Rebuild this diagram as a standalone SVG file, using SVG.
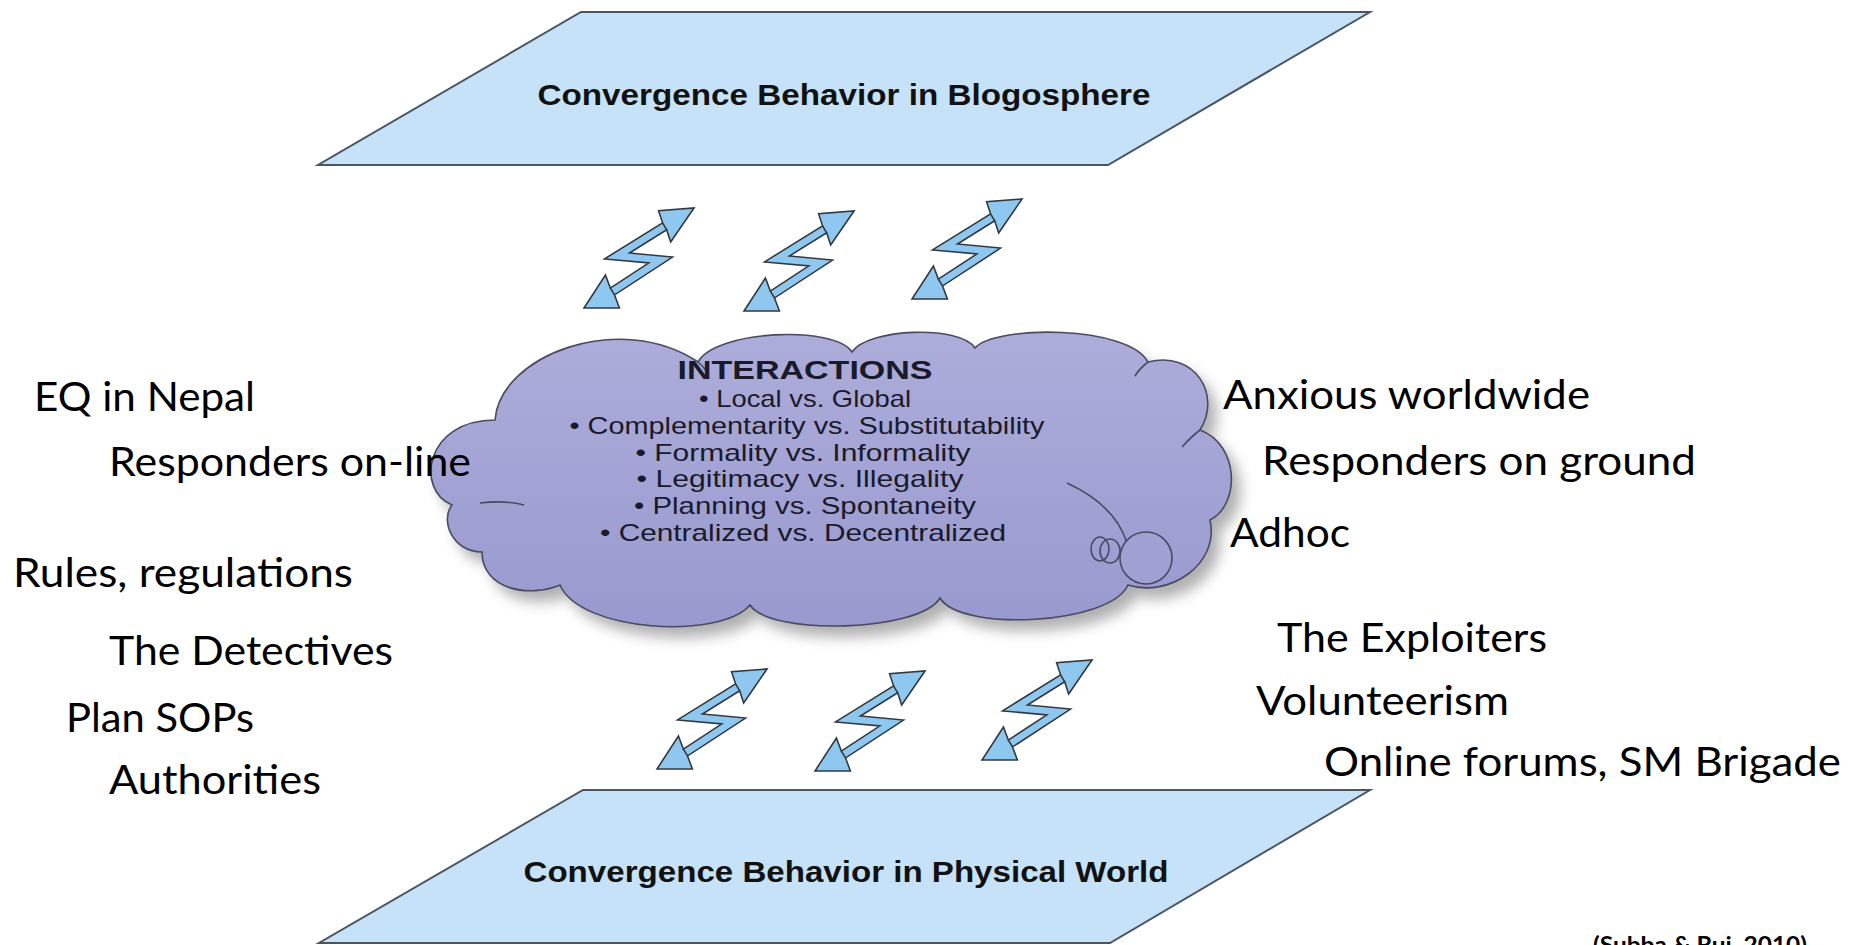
<svg xmlns="http://www.w3.org/2000/svg" xmlns:xlink="http://www.w3.org/1999/xlink" width="1852" height="945" viewBox="0 0 1852 945">
<style>
.plane{fill:#c6e2f8;stroke:#4a5560;stroke-width:2}
.ptitle{font-family:"Liberation Sans",Arial,sans-serif;font-weight:bold;font-size:30px;fill:#111;text-anchor:middle}
.ctitle{font-family:"Liberation Sans",Arial,sans-serif;font-weight:bold;font-size:25px;fill:#1a1a2a;text-anchor:middle}
.citem{font-family:"Liberation Sans",Arial,sans-serif;font-size:24px;fill:#1a1a2a;text-anchor:middle}
.side{font-family:Lato,"Open Sans",sans-serif;font-size:41px;fill:#000}
.cite{font-family:Lato,"Open Sans",sans-serif;font-weight:bold;font-size:22px;fill:#000}
.bolt{fill:#8ec8f0;stroke:#33383d;stroke-width:1.7;stroke-linejoin:miter}
.boltline{fill:none;stroke:#33383d;stroke-width:1.7}
.cloud{stroke:#4a4a60;stroke-width:1.6}
.crease{fill:none;stroke:#4a4a60;stroke-width:1.6}
</style>
<defs>
<linearGradient id="cg" x1="0" y1="0" x2="0" y2="1">
<stop offset="0" stop-color="#adaddb"/>
<stop offset="1" stop-color="#9899ce"/>
</linearGradient>
<filter id="blur" x="-10%" y="-10%" width="130%" height="130%">
<feGaussianBlur stdDeviation="7"/>
</filter>
<g id="bolt">
<polygon class="bolt" points="118,0 93,38 88.7,24.4 48.7,50.4 95,55 32.75,97.4 38,112 0,112 23,75 28.25,89.6 69.6,61.5 22,57 84.3,16.6 80,3"/>
<path class="boltline" d="M84.3,16.6 L88.7,24.4 M28.25,89.6 L32.75,97.4"/>
</g>
<path id="cloudshape" d="M452,505 C415,490 425,420 495,420 C500,355 620,310 698,362 C715,330 835,325 852,352 C868,328 960,325 975,348 C995,325 1128,325 1148,362 C1195,350 1222,395 1200,430 C1240,445 1240,505 1210,520 C1220,565 1168,598 1128,585 C1110,625 960,632 940,598 C920,632 770,636 750,605 C720,640 580,632 560,585 C530,598 482,590 482,552 C452,552 440,520 452,505 Z"/>
</defs>

<g id="node-blogosphere">
<polygon class="plane" points="581,12 1370,12 1108,165 318,165"/>
<text class="ptitle" x="844" y="105" textLength="613" lengthAdjust="spacingAndGlyphs">Convergence Behavior in Blogosphere</text>
</g>

<g id="node-physical">
<polygon class="plane" points="583,790 1370,790 1110,943 319,943"/>
<text class="ptitle" x="846" y="882" textLength="645" lengthAdjust="spacingAndGlyphs">Convergence Behavior in Physical World</text>
</g>

<g id="node-interactions">
<use xlink:href="#cloudshape" transform="translate(9,11)" fill="#7a7a7a" opacity="0.6" filter="url(#blur)"/>
<use xlink:href="#cloudshape" class="cloud" fill="url(#cg)"/>
<path class="crease" d="M480,503 Q505,500 524,505"/>
<path class="crease" d="M1067,483 Q1115,505 1127,543"/>
<path class="crease" d="M1182,447 Q1192,436 1200,430"/>
<path class="crease" d="M1148,362 Q1140,368 1135,376"/>
<path class="crease" d="M698,362 Q704,367 707,372"/>
<ellipse class="cloud" cx="1100" cy="549" rx="9" ry="12" fill="none"/>
<ellipse class="cloud" cx="1110" cy="551" rx="10" ry="12" fill="none"/>
<circle class="cloud" cx="1146" cy="558" r="26" fill="#a0a0d3"/>
<text class="ctitle" x="805" y="379" textLength="255" lengthAdjust="spacingAndGlyphs">INTERACTIONS</text>
<text class="citem" x="805" y="407" textLength="212" lengthAdjust="spacingAndGlyphs">• Local vs. Global</text>
<text class="citem" x="807" y="434" textLength="475" lengthAdjust="spacingAndGlyphs">• Complementarity vs. Substitutability</text>
<text class="citem" x="803" y="461" textLength="335" lengthAdjust="spacingAndGlyphs">• Formality vs. Informality</text>
<text class="citem" x="800" y="487" textLength="327" lengthAdjust="spacingAndGlyphs">• Legitimacy vs. Illegality</text>
<text class="citem" x="805" y="514" textLength="342" lengthAdjust="spacingAndGlyphs">• Planning vs. Spontaneity</text>
<text class="citem" x="803" y="541" textLength="406" lengthAdjust="spacingAndGlyphs">• Centralized vs. Decentralized</text>
</g>

<g id="connectors">
<use xlink:href="#bolt" transform="translate(584,208) scale(0.932,0.893)"/>
<use xlink:href="#bolt" transform="translate(744,211) scale(0.932,0.893)"/>
<use xlink:href="#bolt" transform="translate(912,199) scale(0.932,0.893)"/>
<use xlink:href="#bolt" transform="translate(657,669) scale(0.932,0.893)"/>
<use xlink:href="#bolt" transform="translate(815,671) scale(0.932,0.893)"/>
<use xlink:href="#bolt" transform="translate(982,660) scale(0.932,0.893)"/>
</g>

<g id="labels-left">
<text class="side" x="34" y="411" textLength="221" lengthAdjust="spacingAndGlyphs">EQ in Nepal</text>
<text class="side" x="109" y="476" textLength="362" lengthAdjust="spacingAndGlyphs">Responders on-line</text>
<text class="side" x="13" y="587" textLength="340" lengthAdjust="spacingAndGlyphs">Rules, regulations</text>
<text class="side" x="109" y="665" textLength="284" lengthAdjust="spacingAndGlyphs">The Detectives</text>
<text class="side" x="66" y="732" textLength="188" lengthAdjust="spacingAndGlyphs">Plan SOPs</text>
<text class="side" x="109" y="794" textLength="212" lengthAdjust="spacingAndGlyphs">Authorities</text>
</g>

<g id="labels-right">
<text class="side" x="1223" y="409" textLength="367" lengthAdjust="spacingAndGlyphs">Anxious worldwide</text>
<text class="side" x="1262" y="475" textLength="434" lengthAdjust="spacingAndGlyphs">Responders on ground</text>
<text class="side" x="1230" y="547" textLength="120" lengthAdjust="spacingAndGlyphs">Adhoc</text>
<text class="side" x="1277" y="652" textLength="270" lengthAdjust="spacingAndGlyphs">The Exploiters</text>
<text class="side" x="1256" y="715" textLength="253" lengthAdjust="spacingAndGlyphs">Volunteerism</text>
<text class="side" x="1324" y="776" textLength="517" lengthAdjust="spacingAndGlyphs">Online forums, SM Brigade</text>
</g>

<g id="citation">
<text class="cite" x="1593" y="953" textLength="214" lengthAdjust="spacingAndGlyphs">(Subba &amp; Rui, 2010)</text>
</g>
</svg>
